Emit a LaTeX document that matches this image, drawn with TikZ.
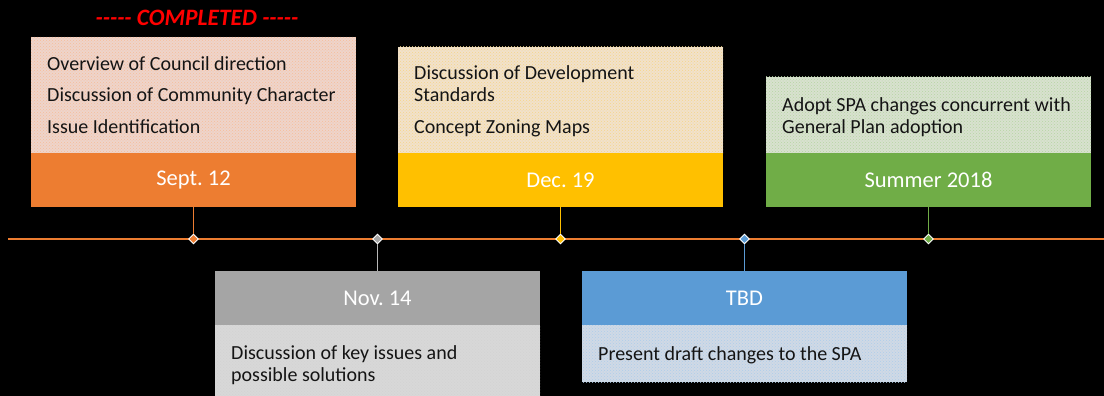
\documentclass[tikz,border=0pt]{standalone}
\usepackage{fontspec}
\setmainfont{Carlito}
\usetikzlibrary{shapes.geometric,patterns}
\frenchspacing
\definecolor{corange}{HTML}{ED7D31}
\definecolor{cgray}{HTML}{A5A5A5}
\definecolor{cyellow}{HTML}{FFC000}
\definecolor{cblue}{HTML}{5B9BD5}
\definecolor{cgreen}{HTML}{70AD47}
\definecolor{tpink}{HTML}{EED4CB}
\definecolor{ttan}{HTML}{F1E1CB}
\definecolor{tgreen}{HTML}{D8E1CF}
\definecolor{tgray}{HTML}{D8D8D8}
\definecolor{tblue}{HTML}{D0D9E5}
\tikzset{
  hdr/.style={draw=none, fill=#1, minimum width=325pt, minimum height=54pt, inner sep=0pt, text=white, font=\fontsize{22.5}{27}\selectfont},
  bodybox/.style 2 args={draw=none, fill=#1, postaction={pattern=crosshatch dots, pattern color=#2!50!white}, minimum width=325pt, inner sep=0pt},
  txt/.style={anchor=base west, inner sep=0pt, text=black!92, font=\fontsize{20}{24}\selectfont},
  dmd/.style={diamond, fill=#1, draw=white, line width=0.9pt, minimum size=10pt, inner sep=0pt},
  conn/.style={draw=#1, line width=0.9pt}
}
\begin{document}
\begin{tikzpicture}[x=1pt,y=-1pt]
\useasboundingbox (0,0) rectangle (1104,396);
\fill[black] (0,0) rectangle (1104,396);
\begin{scope}
\clip (0,0) rectangle (1104,396);
% timeline
\coordinate (tl0) at (8,239);
\coordinate (tl1) at (1104,239);
\draw[corange, line width=1.6pt] (tl0) -- (tl1);

% box 1
\node[bodybox={tpink}{corange}, minimum height=116pt] (b1) at (193.5,95) {};
\node[hdr=corange] (h1) at (193.5,180) {Sept. 12};
\node[txt] (t11) at (47,71) {Overview of Council direction};
\node[txt] (t12) at (47,102) {Discussion of Community Character};
\node[txt] (t13) at (47,133) {Issue Identification};
\node[text=red, font=\fontsize{23.5}{28}\selectfont\bfseries\itshape, inner sep=0pt] (done) at (197,18) {-{}-{}-{}-{}- COMPLETED -{}-{}-{}-{}-};

% box 3
\node[bodybox={ttan}{cyellow!70!brown}, minimum height=106pt] (b3) at (560.5,100) {};
\node[hdr=cyellow] (h3) at (560.5,180) {Dec. 19};
\node[txt] (t31) at (414,80) {Discussion of Development};
\node[txt] (t32) at (414,102) {Standards};
\node[txt] (t33) at (414,133) {Concept Zoning Maps};

% box 5
\node[bodybox={tgreen}{cgreen}, minimum height=76pt] (b5) at (928.5,115) {};
\node[hdr=cgreen] (h5) at (928.5,180) {Summer 2018};
\node[txt] (t51) at (782,111) {Adopt SPA changes concurrent with};
\node[txt] (t52) at (782,133) {General Plan adoption};

% box 2
\node[bodybox={tgray}{cgray}, minimum height=80pt] (b2) at (377.5,365) {};
\node[hdr=cgray] (h2) at (377.5,298) {Nov. 14};
\node[txt] (t21) at (231,359) {Discussion of key issues and};
\node[txt] (t22) at (231,381) {possible solutions};

% box 4
\node[bodybox={tblue}{cblue}, minimum height=57pt] (b4) at (744.5,353.5) {};
\node[hdr=cblue] (h4) at (744.5,298) {TBD};
\node[txt] (t41) at (598,360) {Present draft changes to the SPA};

% diamonds
\node[dmd=corange] (d1) at (193.5,239) {};
\node[dmd=cgray] (d2) at (377.5,239) {};
\node[dmd=cyellow] (d3) at (560.5,239) {};
\node[dmd=cblue] (d4) at (744.5,239) {};
\node[dmd=cgreen] (d5) at (928.5,239) {};

% connectors
\draw[conn=corange] (h1.south) -- (d1.north);
\draw[conn=cgray!80!white] (d2.south) -- (h2.north);
\draw[conn=cyellow] (h3.south) -- (d3.north);
\draw[conn=cblue] (d4.south) -- (h4.north);
\draw[conn=cgreen] (h5.south) -- (d5.north);
\end{scope}
\end{tikzpicture}
\end{document}
